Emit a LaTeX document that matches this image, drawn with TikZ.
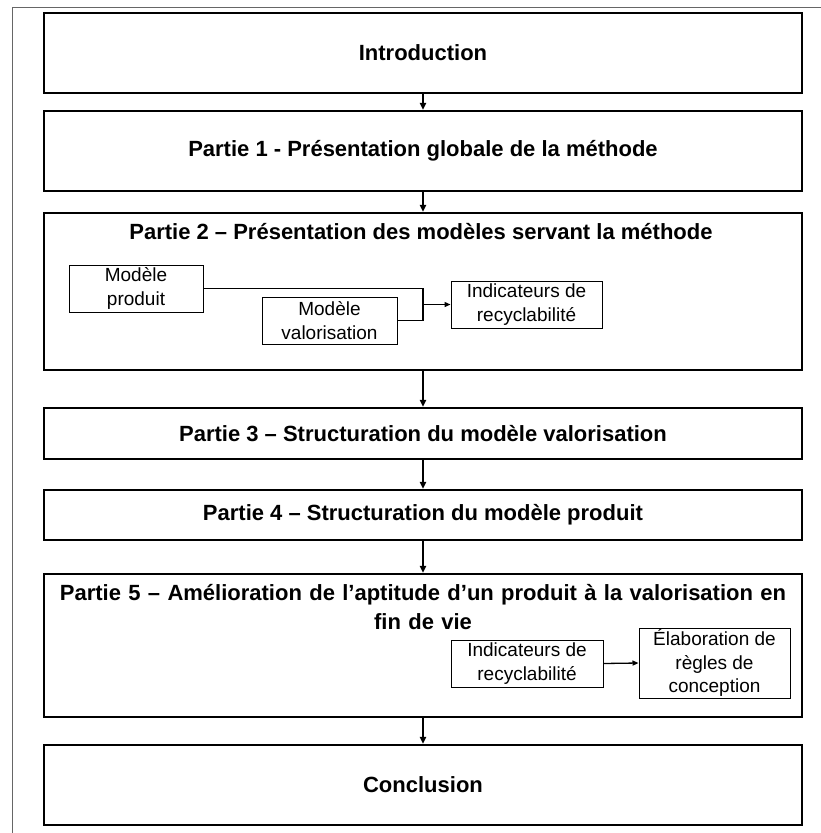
\documentclass[tikz,border=0pt]{standalone}
\usepackage{fontspec}
\setmainfont{Liberation Sans}
\usetikzlibrary{arrows.meta}
\tikzset{
  mainbox/.style={draw=black, line width=2.1pt, minimum width=758pt, inner sep=0pt, font=\fontsize{22}{27}\selectfont\bfseries},
  titletext/.style={inner sep=0pt, align=center, font=\fontsize{22}{29}\selectfont\bfseries},
  smallbox/.style={draw=black, line width=1pt, inner sep=0pt, align=center, font=\fontsize{19}{23.5}\selectfont},
  mainarrow/.style={line width=1.8pt, -{Triangle[width=6pt,length=7pt]}},
  smallline/.style={line width=1.3pt},
  smallarrow/.style={line width=1.3pt, -{Triangle[width=5pt,length=6pt]}},
}
\begin{document}
\begin{tikzpicture}[x=1pt,y=-1pt]
\useasboundingbox (0,0) rectangle (821,833);
% outer frame (only top and left visible)
\draw[line width=0.9pt, black!60] (12,833) -- (12,7) -- (821,7);

% main boxes
\node[mainbox, minimum height=80pt] (intro) at (423,53) {Introduction};
\node[mainbox, minimum height=80pt] (p1) at (423,151) {Partie 1 - Présentation globale de la méthode};
\node[mainbox, minimum height=157pt] (p2) at (423,291.5) {};
\node[mainbox, minimum height=51pt] (p3) at (423,433.5) {Partie 3 – Structuration du modèle valorisation};
\node[mainbox, minimum height=50pt] (p4) at (423,515) {Partie 4 – Structuration du modèle produit};
\node[mainbox, minimum height=143pt] (p5) at (423,645.5) {};
\node[mainbox, minimum height=80pt] (concl) at (423,785) {Conclusion};

% titles inside P2 and P5
\node[titletext] (p2title) at (421,232) {Partie 2 – Présentation des modèles servant la méthode};
\node[titletext, text width=750pt] (p5title) at (423,607.5) {Partie 5 – Amélioration de l’aptitude d’un produit à la valorisation en\\fin de vie};

% inner boxes of P2
\node[smallbox, minimum width=134pt, minimum height=47pt] (mprod) at (136,288.5) {Modèle\\produit};
\node[smallbox, minimum width=135pt, minimum height=47pt] (mval) at (329.5,320.5) {Modèle\\valorisation};
\node[smallbox, minimum width=151pt, minimum height=47pt] (ind1) at (526.5,304.5) {Indicateurs de\\recyclabilité};
\coordinate (jtop) at (423,288.5);
\coordinate (jbot) at (423,320.5);
\coordinate (jmid) at (423,304.5);
\draw[smallline] (mprod.east) -- (jtop) -- (jbot) -- (mval.east);
\draw[smallarrow] (jmid) -- (ind1.west);

% inner boxes of P5
\node[smallbox, minimum width=152pt, minimum height=47pt] (ind2) at (527,663.5) {Indicateurs de\\recyclabilité};
\node[smallbox, minimum width=151pt, minimum height=70pt] (elab) at (714.5,663) {Élaboration de\\règles de\\conception};
\draw[smallarrow] (ind2.east) -- (elab.west);

% main arrows
\draw[mainarrow] (intro.south) -- (p1.north);
\draw[mainarrow] (p1.south) -- (p2.north);
\draw[mainarrow] (p2.south) -- (p3.north);
\draw[mainarrow] (p3.south) -- (p4.north);
\draw[mainarrow] (p4.south) -- (p5.north);
\draw[mainarrow] (p5.south) -- (concl.north);
\end{tikzpicture}
\end{document}
